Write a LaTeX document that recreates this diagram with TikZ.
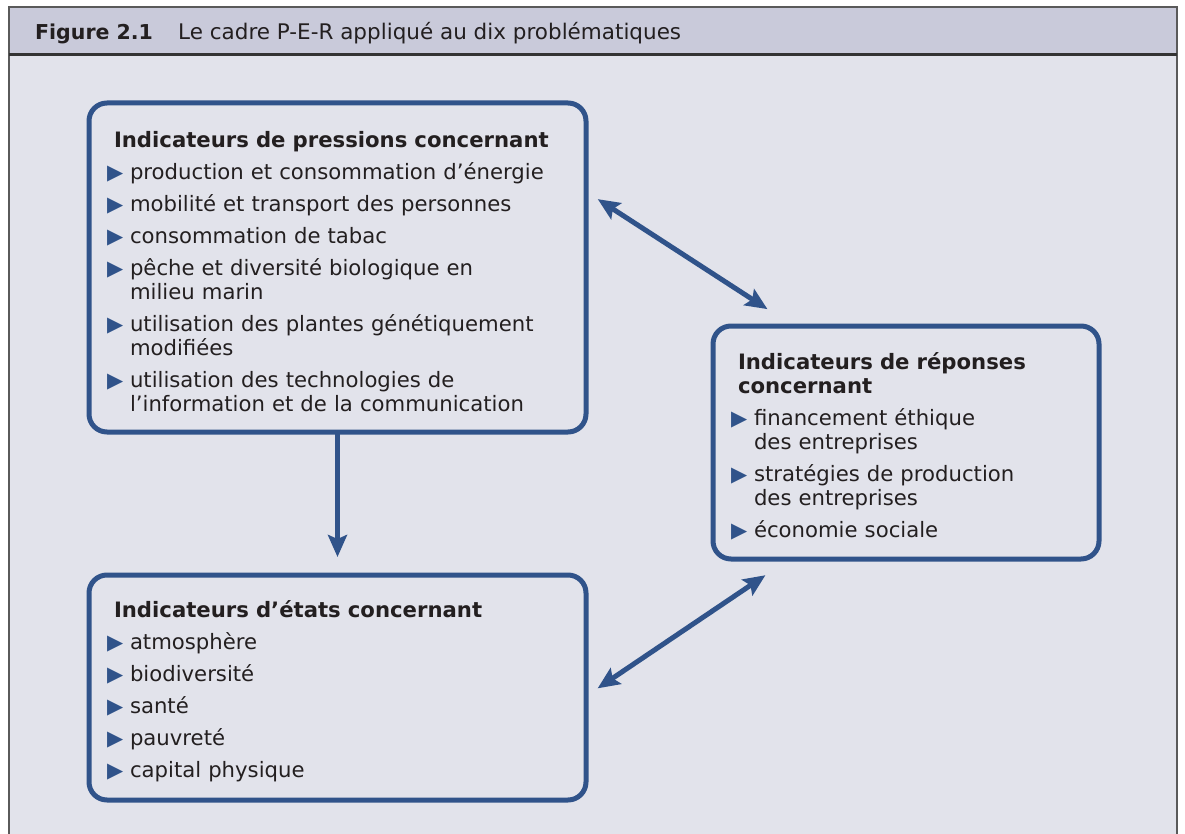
\documentclass[tikz,border=0pt]{standalone}
\usepackage{fontspec}
\setmainfont{DejaVu Sans}
\usepackage{tikz}
\usetikzlibrary{arrows.meta, positioning, calc}

\definecolor{perblue}{HTML}{30538A}
\definecolor{headfill}{HTML}{C9CADA}
\definecolor{bodyfill}{HTML}{E2E3EB}
\definecolor{framegray}{HTML}{5A5A5A}
\definecolor{textdark}{HTML}{231F20}

\newcommand{\puce}{\textcolor{perblue}{\fontsize{21}{21}\selectfont ▶}}
\newcommand{\titre}[1]{\par\hangindent=7pt\hangafter=0\noindent\textbf{#1}\par}
\newcommand{\itm}[1]{\par\vspace{8pt}\hangindent=23pt\hangafter=1\noindent\makebox[23pt][l]{\puce}#1\par}

\begin{document}
\begin{tikzpicture}[x=1pt, y=1pt, font=\fontsize{21.2}{24}\selectfont,
    box/.style={draw=perblue, line width=5pt, rounded corners=18pt, outer sep=0pt,
                inner xsep=18pt, inner ysep=0pt, align=left, text=textdark},
    arr/.style={draw=perblue, line width=5pt, -{Stealth[length=22pt, width=19pt, inset=4pt]}},
    arr2/.style={draw=perblue, line width=5pt,
                 {Stealth[length=22pt, width=19pt, inset=4pt]}-{Stealth[length=22pt, width=19pt, inset=4pt]}}]
    \useasboundingbox (0,0) rectangle (1185,-834);

    % cadre de la figure
    \fill[bodyfill] (9,-55) rectangle (1177,-834);
    \fill[headfill] (9,-7) rectangle (1177,-55);
    \draw[framegray, line width=2pt] (9,-834) -- (9,-7) -- (1177,-7) -- (1177,-834);
    \draw[black!80, line width=3pt] (9,-55) -- (1177,-55);
    \node[anchor=base west, inner sep=0pt, text=textdark, font=\fontsize{20.5}{24}\selectfont] (fig) at (35,-40) {\textbf{Figure 2.1}};
    \node[anchor=base west, inner sep=0pt, text=textdark, font=\fontsize{21.5}{24}\selectfont] (titre) at (178,-40) {Le cadre P-E-R appliqué au dix problématiques};

    \node[box, text width=461pt, minimum height=329pt] (pres) at (337.5,-267.5) {%
        \titre{Indicateurs de pressions concernant}
        \itm{production et consommation d’énergie}
        \itm{mobilité et transport des personnes}
        \itm{consommation de tabac}
        \itm{pêche et diversité biologique en\newline milieu marin}
        \itm{utilisation des plantes génétiquement\newline modifiées}
        \itm{utilisation des technologies de\newline l’information et de la communication}};
    \node[box, text width=461pt, minimum height=225pt] (etats) at (337.5,-687.5) {%
        \titre{Indicateurs d’états concernant}
        \itm{atmosphère}
        \itm{biodiversité}
        \itm{santé}
        \itm{pauvreté}
        \itm{capital physique}};
    \node[box, text width=350pt, minimum height=233pt] (rep) at (906,-442.5) {%
        \titre{Indicateurs de réponses\newline concernant}
        \itm{financement éthique\newline des entreprises}
        \itm{stratégies de production\newline des entreprises}
        \itm{économie sociale}};

    \draw[arr, shorten >=18pt] (pres.south) -- (etats.north);
    \draw[arr2, shorten <=14pt, shorten >=31pt] (pres.17.3) -- (rep.134.1);
    \draw[arr2, shorten <=14pt, shorten >=29pt] (etats.-2) -- (rep.225.4);

\end{tikzpicture}
\end{document}
